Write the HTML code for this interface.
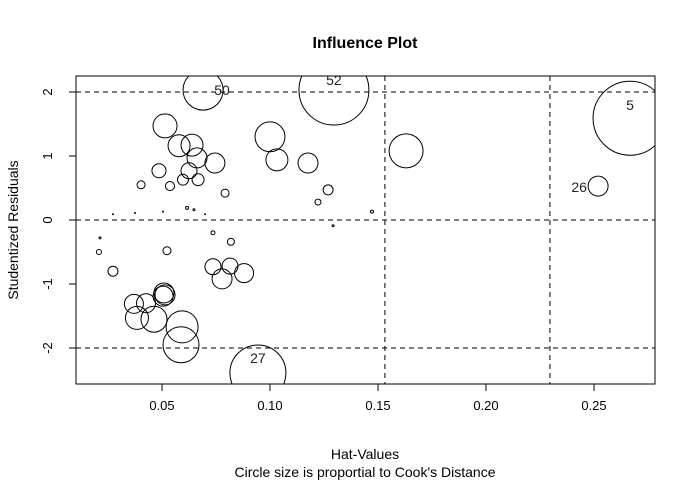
<!DOCTYPE html>
<html><head><meta charset="utf-8"><style>body{margin:0;background:#fff}svg{display:block;font-family:"Liberation Sans",Arial,sans-serif}</style></head>
<body>
<svg id="chart" width="692" height="483">
<defs><clipPath id="pc"><rect x="76" y="76" width="579" height="308"/></clipPath></defs>
<text x="365" y="48" text-anchor="middle" font-size="16" font-weight="bold">Influence Plot</text>
<text x="365" y="459" text-anchor="middle" font-size="14">Hat-Values</text>
<text x="365" y="477" text-anchor="middle" font-size="14">Circle size is proportial to Cook's Distance</text>
<text transform="translate(18,230) rotate(-90)" text-anchor="middle" font-size="14">Studentized Residuals</text>
<g id="grid"></g><g id="axes"></g><g id="pts" clip-path="url(#pc)"></g>
<rect x="76" y="76" width="579" height="308" fill="none" stroke="#000"/>
</svg>
<script>
const hat=[.069,.0514,.0579,.0639,.0662,.0745,.0486,.0625,.0403,.0537,.0597,.0667,.0792,.0616,.0648,.0273,.0375,.0505,.0699,.0736,.100,.1032,.1176,.1296,.163,.1269,.1222,.1292,.1472,.2667,.2519,.0944,.0213,.0208,.0273,.0523,.0819,.0736,.0815,.088,.0778,.037,.0426,.0384,.0463,.0509,.0514,.0505,.0593,.0588];
const resid=[2.03,1.47,1.16,1.17,.97,.89,.77,.77,.55,.53,.63,.63,.42,.19,.16,.09,.11,.13,.09,-.20,1.30,.94,.89,2.03,1.08,.47,.28,-.09,.13,1.59,.53,-2.39,-.28,-.5,-.8,-.48,-.34,-.73,-.72,-.83,-.92,-1.31,-1.30,-1.53,-1.55,-1.14,-1.17,-1.19,-1.67,-1.95];
const cook=[.0625,.0225,.0189,.0189,.0156,.0156,.0077,.01,.0025,.0032,.0047,.0056,.0025,.00035,.00016,.00004,.00004,.00004,.00004,.0006,.035,.0189,.0156,.191,.045,.0039,.0014,.00016,.00035,.214,.0156,.1225,.00016,.001,.0039,.0025,.0019,.01,.01,.0141,.0156,.0141,.0141,.0207,.0264,.0156,.0156,.0156,.04,.0506];
const labelIdx=[0,23,29,30,31];
const labelText=["50","52","5","26","27"];
const xTicks=[0.05,0.10,0.15,0.20,0.25];
const xTickLabels=["0.05","0.10","0.15","0.20","0.25"];
const yTicks=[-2,-1,0,1,2];
const hatCuts=[0.1532,0.2296];
const residCuts=[-2,0,2];
const X=v=>54+v*2160, Y=v=>220-v*64;
const NS="http://www.w3.org/2000/svg";
function mk(t,a,p){const e=document.createElementNS(NS,t);for(const k in a)e.setAttribute(k,a[k]);p.appendChild(e);return e;}
const grid=document.getElementById('grid'),axes=document.getElementById('axes'),pts=document.getElementById('pts');
hatCuts.forEach(h=>{const l=mk('line',{x1:X(h),x2:X(h),y1:76,y2:384,stroke:'#000','stroke-dasharray':'5,4'},grid);

});
residCuts.forEach(r=>{const l=mk('line',{x1:76,x2:655,y1:Y(r),y2:Y(r),stroke:'#000','stroke-dasharray':'5,4'},grid);

});
xTicks.forEach((t,i)=>{mk('line',{x1:X(t),x2:X(t),y1:384,y2:391,stroke:'#000'},axes);
const tx=mk('text',{x:X(t),y:410,'text-anchor':'middle','font-size':13},axes);tx.textContent=xTickLabels[i];

});
yTicks.forEach(t=>{mk('line',{x1:69,x2:76,y1:Y(t),y2:Y(t),stroke:'#000'},axes);
const tx=mk('text',{transform:`translate(52,${Y(t)}) rotate(-90)`,'text-anchor':'middle','font-size':13},axes);tx.textContent=String(t);

});
hat.forEach((h,i)=>{const r=Math.max(0.5,80*Math.sqrt(cook[i]));
const c=mk('circle',{cx:X(h),cy:Y(resid[i]),r:r,fill:'none',stroke:'#000'},pts);

});
const off=[[19,0],[0,-10],[0,-13],[-19,1],[0,-15]];
labelIdx.forEach((k,j)=>{const t=mk('text',{x:X(hat[k])+off[j][0],y:Y(resid[k])+off[j][1]+5,'text-anchor':'middle','font-size':14,fill:'#222'},pts);t.textContent=labelText[j];

});
</script>
</body></html>
